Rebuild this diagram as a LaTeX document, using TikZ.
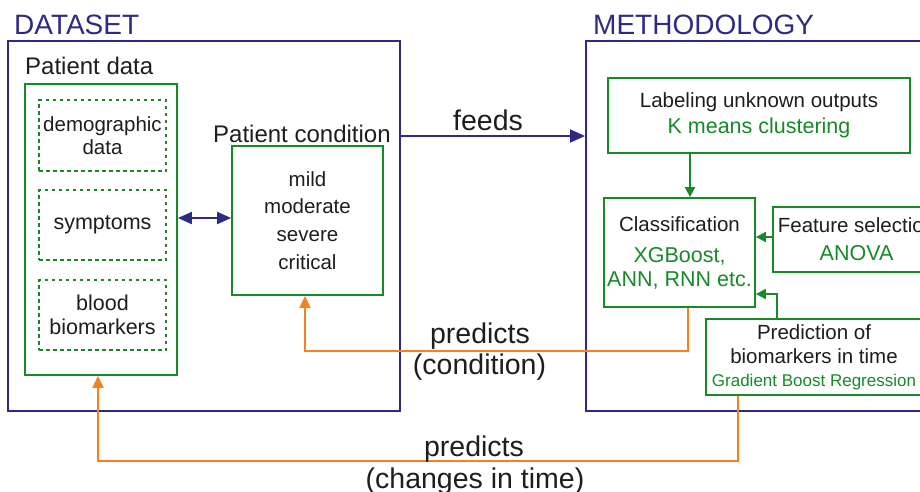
\documentclass[tikz,border=0pt]{standalone}
\usepackage{fontspec}
\setmainfont{Liberation Sans}
\usetikzlibrary{arrows.meta}
\definecolor{dsblue}{HTML}{2E2A85}
\definecolor{dsgreen}{HTML}{178A28}
\definecolor{dsorange}{HTML}{F5821F}
\definecolor{dstext}{HTML}{1E1E1E}
\tikzset{
 outerbox/.style={draw=dsblue,line width=2pt,inner sep=0pt},
 gbox/.style={draw=dsgreen,line width=1.8pt,inner sep=0pt,align=center,text=dstext,
   font=\fontsize{20.5}{24}\selectfont},
 dotbox/.style={gbox,dash pattern=on 3.5pt off 3.5pt},
 titletext/.style={text=dsblue,font=\fontsize{28}{32}\selectfont,anchor=base west,inner sep=0pt},
 headtext/.style={text=dstext,font=\fontsize{24}{28}\selectfont,anchor=base west,inner sep=0pt},
 bigtext/.style={text=dstext,font=\fontsize{28.5}{32}\selectfont,anchor=base,inner sep=0pt},
 bluearrow/.style={draw=dsblue,line width=2pt,-{Triangle[length=15pt,width=13pt]}},
 bluedouble/.style={draw=dsblue,line width=2pt,{Triangle[length=14pt,width=12pt]}-{Triangle[length=14pt,width=12pt]}},
 greenarrow/.style={draw=dsgreen,line width=1.8pt,-{Triangle[length=10pt,width=10pt]}},
 orangearrow/.style={draw=dsorange,line width=2pt,-{Triangle[length=12pt,width=11pt]}},
}
\newcommand{\gtxt}[1]{\textcolor{dsgreen}{\fontsize{21.5}{24}\selectfont #1}}
\begin{document}
\begin{tikzpicture}[x=1pt,y=-1pt]
\path[use as bounding box,clip] (0,0) rectangle (920,491);
\fill[white] (0,0) rectangle (920,491);

% titles
\node[titletext] (dstitle) at (14,34) {DATASET};
\node[titletext] (mtitle) at (593,34) {METHODOLOGY};

% outer boxes
\node[outerbox,minimum width=392pt,minimum height=370pt] (dataset) at (204,226) {};
\node[outerbox,minimum width=354pt,minimum height=370pt] (method) at (763,226) {};

% dataset content
\node[headtext] (pdlabel) at (25,74) {Patient data};
\node[gbox,minimum width=152pt,minimum height=291pt] (pdata) at (101,229.5) {};
\node[dotbox,minimum width=127pt,minimum height=71pt,font=\fontsize{20.5}{22.5}\selectfont] (demo) at (102.5,135.5) {demographic\\data};
\node[dotbox,minimum width=127pt,minimum height=70pt,font=\fontsize{21.5}{24}\selectfont] (symp) at (102.5,225) {symptoms};
\node[dotbox,minimum width=127pt,minimum height=70pt,font=\fontsize{21.5}{24}\selectfont] (blood) at (102.5,315) {blood\\biomarkers};

\node[headtext] (pclabel) at (213,142) {Patient condition};
\node[gbox,minimum width=151pt,minimum height=149pt,font=\fontsize{20.5}{27.7}\selectfont] (cond) at (307.5,220.5) {mild\\moderate\\severe\\critical};

% methodology content
\node[gbox,minimum width=302pt,minimum height=75pt,font=\fontsize{20.5}{26}\selectfont] (label) at (759,115.5) {Labeling unknown outputs\\\gtxt{K means clustering}};
\node[gbox,minimum width=151pt,minimum height=109pt] (class) at (679.5,252.5) {Classification\\[7pt]\gtxt{XGBoost,}\\\gtxt{ANN, RNN etc.}};
\node[gbox,minimum width=167pt,minimum height=65pt,font=\fontsize{20.5}{28}\selectfont] (feat) at (856.5,239.5) {Feature selection\\\gtxt{ANOVA}};
\node[gbox,minimum width=216pt,minimum height=76pt] (pred) at (814,357) {Prediction of\\biomarkers in time\\[-1pt]\textcolor{dsgreen}{\fontsize{17}{20}\selectfont Gradient Boost Regression}};

% connectors
\draw[bluedouble] (pdata.east |- 0,218) -- (cond.west |- 0,218);
\draw[bluearrow] (dataset.east |- 0,136) -- (method.west |- 0,136);
\node[bigtext] (feeds) at (488,130) {feeds};

\draw[greenarrow] (label.south -| 690,0) -- (class.north -| 690,0);
\draw[greenarrow] (feat.west |- 0,237) -- (class.east |- 0,237);
\draw[greenarrow] (pred.north -| 777,0) |- (class.east |- 0,294);

\draw[orangearrow] (class.south -| 688,0) -- ++(0,43) -| (cond.south -| 305,0);
\draw[orangearrow] (pred.south -| 738,0) -- ++(0,65) -| (pdata.south -| 98,0);

\node[bigtext] (pr1) at (480,343) {predicts};
\node[bigtext] (pr1b) at (479.5,374) {(condition)};
\node[bigtext] (pr2) at (474,456) {predicts};
\node[bigtext] (pr2b) at (475,488) {(changes in time)};
\end{tikzpicture}
\end{document}
